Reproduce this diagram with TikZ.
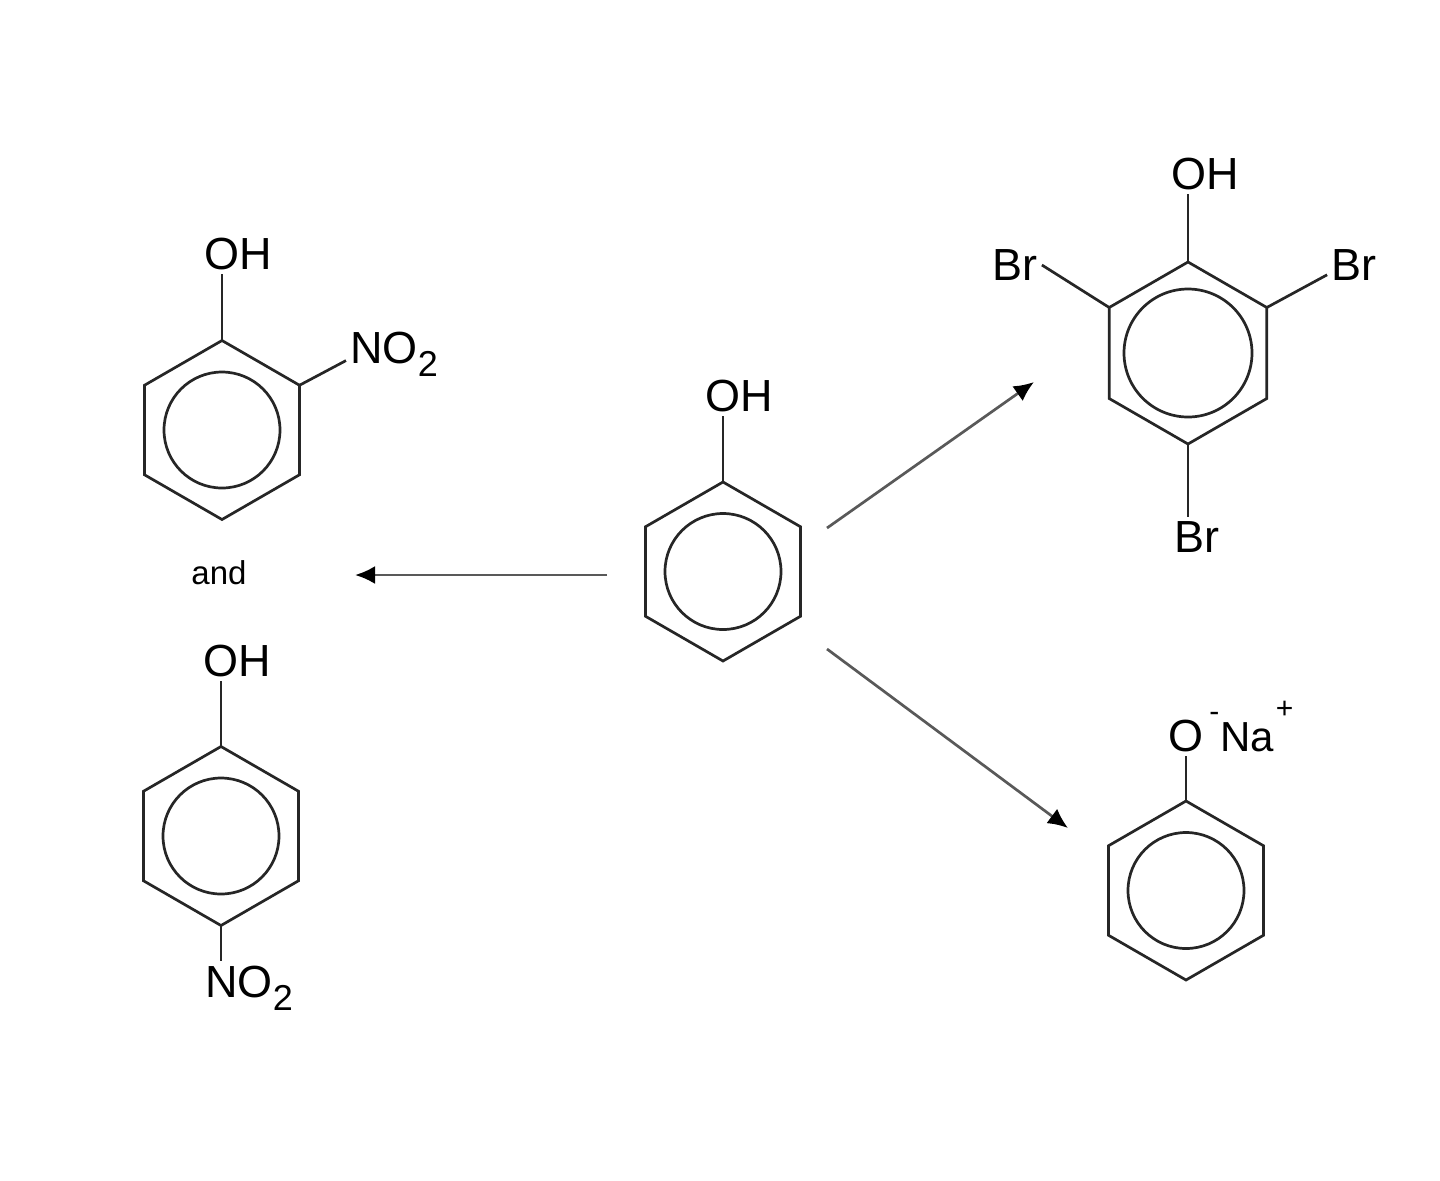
\documentclass[tikz,border=0pt]{standalone}
\usepackage{fontspec}
\setmainfont{Liberation Sans}
\usetikzlibrary{shapes.geometric, arrows.meta}

\newcommand{\subtwo}{\raisebox{-6.5pt}{\fontsize{18}{18}\selectfont 2}}

\begin{document}
\begin{tikzpicture}[x=0.5pt, y=-0.5pt]
    \tikzstyle{ring} = [regular polygon, regular polygon sides=6, regular polygon rotate=-30,
    draw=black!85, line width=1.35pt, inner sep=0pt, outer sep=0pt, minimum size=89.5pt]
    \tikzstyle{inring} = [circle, draw=black!85, line width=1.35pt, inner sep=0pt, minimum size=58pt]
    \tikzstyle{atom} = [font=\fontsize{22.5}{22.5}\selectfont, text=black, inner sep=2pt]
    \tikzstyle{bond} = [draw=black!85, line width=1.35pt]
    \tikzstyle{line} = [draw=black!65, line width=1.35pt, -{Latex[length=10pt, width=9pt, color=black]}]
    \useasboundingbox (0,0) rectangle (1440,1180);
    % rings
    \node [ring] (phenol) at (723,571.5) {};
    \node [inring] (phenolin) at (723,571.5) {};
    \node [ring] (ortho) at (222,430) {};
    \node [inring] (orthoin) at (222,430) {};
    \node [ring] (para) at (221,836) {};
    \node [inring] (parain) at (221,836) {};
    \node [ring, minimum size=91pt] (tribromo) at (1188,353) {};
    \node [inring, minimum size=64pt] (tribromoin) at (1188,353) {};
    \node [ring] (phenoxide) at (1186,890.5) {};
    \node [inring] (phenoxidein) at (1186,890.5) {};
    % atoms
    \node [atom] (ohphenol) at (739,396) {OH};
    \node [atom] (ohortho) at (238,254) {OH};
    \node [atom, anchor=base west] (noortho) at (346,363) {NO\subtwo};
    \node [font=\fontsize{16.5}{16.5}\selectfont, text=black] (and) at (219,573) {and};
    \node [atom] (ohpara) at (237,661) {OH};
    \node [atom, anchor=base west] (nopara) at (201,997) {NO\subtwo};
    \node [atom] (ohtri) at (1205,174) {OH};
    \node [atom] (brleft) at (1015,265) {Br};
    \node [atom] (brright) at (1354,265) {Br};
    \node [atom] (brbottom) at (1197,537) {Br};
    \node [atom] (oxide) at (1186,736) {O};
    \node [atom, anchor=base west, xshift=-1.5pt] (sodium) at (oxide.base east)
    {\raisebox{15pt}{\fontsize{15}{15}\selectfont -}\kern0.5pt{\fontsize{21}{21}\selectfont Na}\kern1pt\raisebox{16.5pt}{\fontsize{15}{15}\selectfont +}};
    % bonds
    \path [bond] (phenol.corner 2) -- (phenol.corner 2 |- ohphenol.south);
    \path [bond] (ortho.corner 2) -- (ortho.corner 2 |- ohortho.south);
    \path [bond] (ortho.corner 1) -- (noortho.188);
    \path [bond] (para.corner 2) -- (para.corner 2 |- ohpara.south);
    \path [bond] (para.corner 5) -- (para.corner 5 |- nopara.north);
    \path [bond] (tribromo.corner 2) -- (tribromo.corner 2 |- ohtri.south);
    \path [bond] (tribromo.corner 3) -- (brleft.east);
    \path [bond] (tribromo.corner 1) -- (brright.200);
    \path [bond] (tribromo.corner 5) -- (tribromo.corner 5 |- brbottom.north);
    \path [bond] (phenoxide.corner 2) -- (phenoxide.corner 2 |- oxide.south);
    % arrows
    \coordinate (leftstart) at (607,575);
    \coordinate (leftend) at (355,575);
    \coordinate (upstart) at (827,528);
    \coordinate (upend) at (1034,382);
    \coordinate (downstart) at (827,649);
    \coordinate (downend) at (1068,828);
    \path [line] (leftstart) -- (leftend);
    \path [line] (upstart) -- (upend);
    \path [line] (downstart) -- (downend);
\end{tikzpicture}
\end{document}
